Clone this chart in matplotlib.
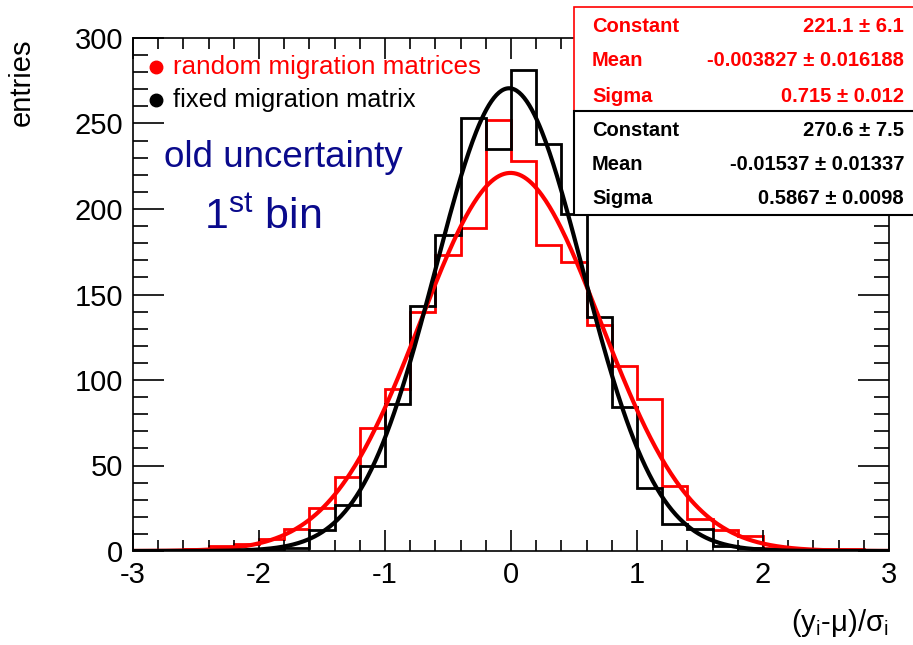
import numpy as np
import matplotlib.pyplot as plt
from matplotlib.patches import Rectangle

plt.rcParams['font.family'] = ['Liberation Sans', 'DejaVu Sans']
plt.rcParams['axes.unicode_minus'] = False
plt.rcParams['mathtext.fontset'] = 'custom'
plt.rcParams['mathtext.rm'] = 'Liberation Sans'

# bin edges -3 .. 3, width 0.2
edges = np.round(np.arange(-3.0, 3.01, 0.2), 2)

# random migration matrices (red)
red_counts = [0, 0, 1, 3, 4, 7, 13, 25, 43, 72, 95, 140, 173, 189, 252,
              228, 179, 169, 132, 108, 89, 38, 19, 12, 9, 2, 1, 1, 1, 0]
# fixed migration matrix (black)
black_counts = [0, 0, 0, 0, 0, 1, 2, 12, 27, 50, 86, 143, 185, 253, 235,
                281, 238, 197, 137, 84, 37, 16, 13, 3, 2, 1, 0, 0, 0, 0]

# gaussian fit results (constant, mean, sigma, errors)
red_fit = (221.1, -0.003827, 0.715)
black_fit = (270.6, -0.01537, 0.5867)
red_stats = [('Constant', '221.1 \u00b1 6.1'),
             ('Mean', '-0.003827 \u00b1 0.016188'),
             ('Sigma', '0.715 \u00b1 0.012')]
black_stats = [('Constant', '270.6 \u00b1 7.5'),
               ('Mean', '-0.01537 \u00b1 0.01337'),
               ('Sigma', '0.5867 \u00b1 0.0098')]

navy = '#0a0a8c'

fig = plt.figure(figsize=(9.13, 6.45), dpi=100)
ax = fig.add_axes([133/913, 1-551/645, (889-133)/913, (551-38)/645])

ax.stairs(red_counts, edges, color='red', lw=2)
ax.stairs(black_counts, edges, color='black', lw=2)

xs = np.linspace(-3, 3, 600)
for (c, m, s), col in [(red_fit, 'red'), (black_fit, 'black')]:
    ax.plot(xs, c*np.exp(-0.5*((xs-m)/s)**2), color=col, lw=3)

ax.set_xlim(-3, 3)
ax.set_ylim(0, 300)
ax.set_xticks(np.arange(-3, 4, 1))
ax.set_xticks(np.arange(-3, 3.01, 0.2), minor=True)
ax.set_yticks(np.arange(0, 301, 50))
ax.set_yticks(np.arange(0, 301, 10), minor=True)
ax.tick_params(direction='in', top=True, right=True, which='both', width=1.2, labelsize=21)
ax.tick_params(axis='x', which='major', length=15, pad=7)
ax.tick_params(axis='x', which='minor', length=8)
ax.tick_params(axis='y', which='major', length=22, pad=7)
ax.tick_params(axis='y', which='minor', length=11)
for sp in ax.spines.values():
    sp.set_linewidth(1.2)

ax.set_ylabel('entries', fontsize=21, loc='top', labelpad=28)
ax.set_xlabel('(y$_{\\rm i}$-\u03bc)/\u03c3$_{\\rm i}$', fontsize=21, loc='right', labelpad=13)

# legend
ax.plot([-2.82], [283], 'o', color='red', ms=9, clip_on=False)
ax.plot([-2.82], [264], 'o', color='black', ms=9, clip_on=False)
ax.text(-2.68, 283, 'random migration matrices', color='red', fontsize=18.7, va='center')
ax.text(-2.68, 264, 'fixed migration matrix', color='black', fontsize=18.3, va='center')

ax.text(-2.75, 230, 'old uncertainty', color=navy, fontsize=26.5, va='center')
ax.text(-2.44, 195, r'1$^{\rm st}$ bin', color=navy, fontsize=31, va='center')

# stats boxes
fig.patches.append(Rectangle((574/913, 1-111/645), 345/913, 104/645, transform=fig.transFigure,
                             facecolor='white', edgecolor='red', lw=1.2, zorder=5))
fig.patches.append(Rectangle((574/913, 1-215/645), 345/913, 104/645, transform=fig.transFigure,
                             facecolor='white', edgecolor='black', lw=1.5, zorder=5))
row_y = [26, 61, 96, 130, 164, 198]
rows = [(r, 'red') for r in red_stats] + [(r, 'black') for r in black_stats]
for yy, ((name, val), col) in zip(row_y, rows):
    fig.text(592/913, 1-yy/645, name, color=col, fontsize=14.5, weight='bold', va='center', zorder=6)
    fig.text(904/913, 1-yy/645, val, color=col, fontsize=14.5, weight='bold', va='center', ha='right', zorder=6)

fig.savefig('out.png', dpi=100)
